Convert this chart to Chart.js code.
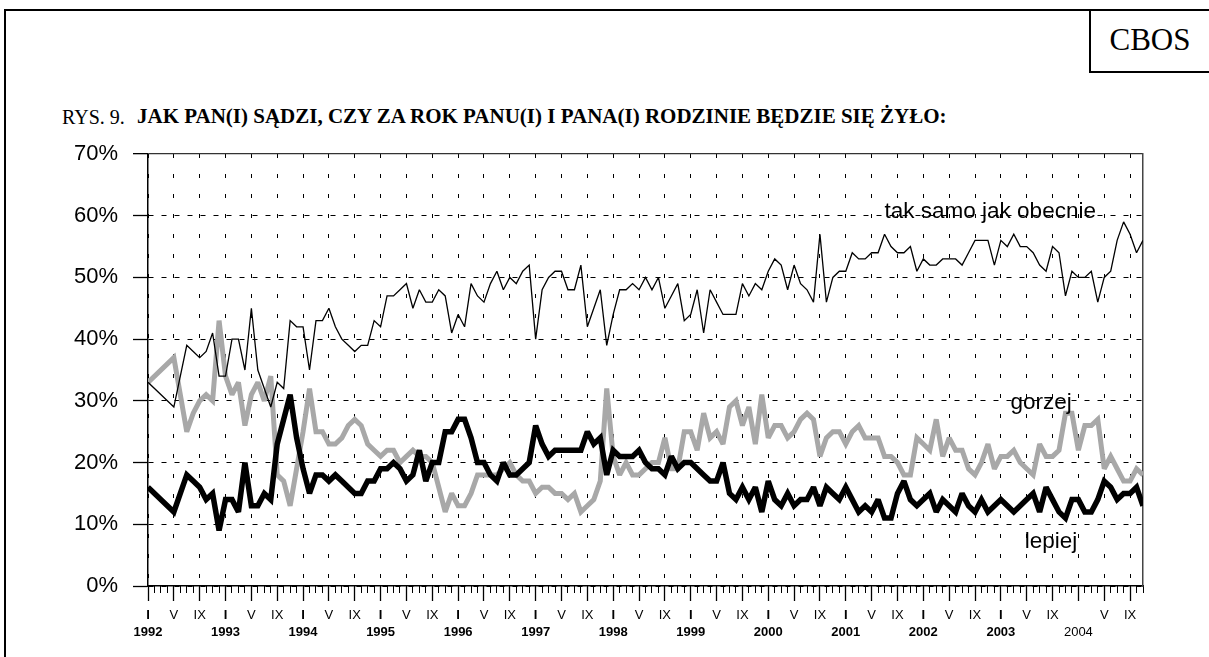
<!DOCTYPE html>
<html>
<head>
<meta charset="utf-8">
<script src="https://cdn.jsdelivr.net/npm/chart.js@4.4.1/dist/chart.umd.min.js"></script>
<style>
  html, body { margin: 0; padding: 0; background: #fff; }
  #page { position: relative; width: 1209px; height: 657px; overflow: hidden; background: #fff; }
  #frame { position: absolute; left: 4px; top: 9px; width: 1300px; height: 700px; border-top: 2px solid #000; border-left: 2px solid #000; }
  #cbosBox { position: absolute; left: 1089px; top: 9px; width: 200px; height: 62px; border-left: 2px solid #000; border-bottom: 2px solid #000; }
  #cbosText { position: absolute; left: 1091px; top: 24px; width: 118px; text-align: center; font-family: 'Liberation Serif'; font-size: 31px; line-height: 31px; }
  .ttl { position: absolute; font-family: 'Liberation Serif'; white-space: nowrap; }
  #t1 { left: 62px; top: 107px; font-size: 20px; line-height: 20px; }
  #t2 { left: 137px; top: 106px; font-size: 21px; line-height: 21px; font-weight: bold; }
  #c { position: absolute; left: 0; top: 0; }
</style>
</head>
<body>
<div id="page">
  <div id="frame"></div>
  <div id="cbosBox"></div>
  <div id="cbosText">CBOS</div>
  <div class="ttl" id="t1">RYS. 9.</div>
  <div class="ttl" id="t2">JAK PAN(I) SĄDZI, CZY ZA ROK PANU(I) I PANA(I) RODZINIE BĘDZIE SIĘ ŻYŁO:</div>
  <canvas id="c" width="1209" height="657"></canvas>
</div>
<script>
// Month index: 0 = I 1992, 12 = I 1993, ... 154 = XI 2004
const months = [
  0, 4, 6, 7, 8, 9, 10, 11,
  12, 13, 14, 15, 16, 17, 18, 19, 20, 21, 22, 23,
  24, 25, 26, 27, 28, 29, 30, 31, 32, 33, 34, 35,
  36, 37, 38, 39, 40, 41, 42, 43, 44, 45, 46, 47,
  48, 49, 50, 51, 52, 53, 54, 55, 56, 57, 58, 59,
  60, 61, 62, 63, 64, 65, 66, 67, 68, 69, 70, 71,
  72, 73, 74, 75, 76, 77, 78, 79, 80, 81, 82, 83,
  84, 85, 86, 87, 88, 89, 90, 91, 92, 93, 94, 95,
  96, 97, 98, 99, 100, 101, 102, 103, 104, 105, 106, 107,
  108, 109, 110, 111, 112, 113, 114, 115, 116, 117, 118, 119,
  120, 121, 122, 123, 124, 125, 126, 127, 128, 129, 130, 131,
  132, 133, 134, 135, 136, 137, 138, 139, 140, 141, 142, 143,
  144, 145, 146, 147, 148, 149, 150, 151, 152, 153, 154
];

const takSamo = [
  33, 29, 39, 38, 37, 38, 41, 34,
  34, 40, 40, 35, 45, 35, 32, 29, 33, 32, 43, 42,
  42, 35, 43, 43, 45, 42, 40, 39, 38, 39, 39, 43,
  42, 47, 47, 48, 49, 45, 48, 46, 46, 48, 47, 41,
  44, 42, 49, 47, 46, 49, 51, 48, 50, 49, 51, 52,
  40, 48, 50, 51, 51, 48, 48, 52, 42, 45, 48, 39,
  44, 48, 48, 49, 48, 50, 48, 50, 45, 47, 49, 43,
  44, 48, 41, 48, 46, 44, 44, 44, 49, 47, 49, 48,
  51, 53, 52, 48, 52, 49, 48, 46, 57, 46, 50, 51,
  51, 54, 53, 53, 54, 54, 57, 55, 54, 54, 55, 51,
  53, 52, 52, 53, 53, 53, 52, 54, 56, 56, 56, 52,
  56, 55, 57, 55, 55, 54, 52, 51, 55, 54, 47, 51,
  50, 50, 51, 46, 50, 51, 56, 59, 57, 54, 56
];

const gorzej = [
  33, 37, 25, 28, 30, 31, 30, 43,
  34, 31, 33, 26, 31, 33, 30, 34, 18, 17, 13, 19,
  25, 32, 25, 25, 23, 23, 24, 26, 27, 26, 23, 22,
  21, 22, 22, 20, 21, 22, 21, 21, 20, 16, 12, 15,
  13, 13, 15, 18, 18, 18, 18, 19, 20, 18, 17, 17,
  15, 16, 16, 15, 15, 14, 15, 12, 13, 14, 17, 32,
  21, 18, 20, 18, 18, 19, 20, 20, 24, 19, 19, 25,
  25, 22, 28, 24, 25, 23, 29, 30, 26, 29, 23, 31,
  24, 26, 26, 24, 25, 27, 28, 27, 21, 24, 25, 25,
  23, 25, 26, 24, 24, 24, 21, 21, 20, 18, 18, 24,
  23, 22, 27, 21, 24, 22, 22, 19, 18, 20, 23, 19,
  21, 21, 22, 20, 19, 18, 23, 21, 21, 22, 28, 28,
  22, 26, 26, 27, 19, 21, 19, 17, 17, 19, 18
];

const lepiej = [
  16, 12, 18, 17, 16, 14, 15, 9,
  14, 14, 12, 20, 13, 13, 15, 14, 23, 27, 31, 24,
  19, 15, 18, 18, 17, 18, 17, 16, 15, 15, 17, 17,
  19, 19, 20, 19, 17, 18, 22, 17, 20, 20, 25, 25,
  27, 27, 24, 20, 20, 18, 17, 20, 18, 18, 19, 20,
  26, 23, 21, 22, 22, 22, 22, 22, 25, 23, 24, 18,
  22, 21, 21, 21, 22, 20, 19, 19, 18, 21, 19, 20,
  20, 19, 18, 17, 17, 20, 15, 14, 16, 14, 16, 12,
  17, 14, 13, 15, 13, 14, 14, 16, 13, 16, 15, 14,
  16, 14, 12, 13, 12, 14, 11, 11, 15, 17, 14, 13,
  14, 15, 12, 14, 13, 12, 15, 13, 12, 14, 12, 13,
  14, 13, 12, 13, 14, 15, 12, 16, 14, 12, 11, 14,
  14, 12, 12, 14, 17, 16, 14, 15, 15, 16, 13
];

const yTickLabels = ['0%', '10%', '20%', '30%', '40%', '50%', '60%', '70%'];
const monthTickLabels = ['I', 'V', 'IX'];
const yearTickLabels = ['1992', '1993', '1994', '1995', '1996', '1997', '1998', '1999', '2000', '2001', '2002', '2003', '2004'];
const seriesNames = ['tak samo jak obecnie', 'gorzej', 'lepiej'];

// label anchors in data units (month index, percent)
const labelAnchors = [
  { text: seriesNames[0], m: 114.0, v: 59.7 },
  { text: seriesNames[1], m: 133.5, v: 28.6 },
  { text: seriesNames[2], m: 135.7, v: 6.1 }
];

const toPoints = vals => months.map((m, i) => ({ x: m, y: vals[i] }));

const FONT = 'Liberation Sans';

const seriesLabelPlugin = {
  id: 'seriesLabels',
  afterDatasetsDraw(chart) {
    const { ctx, scales } = chart;
    ctx.save();
    ctx.font = '22.5px "' + FONT + '"';
    ctx.fillStyle = '#000';
    ctx.textAlign = 'left';
    ctx.textBaseline = 'alphabetic';
    labelAnchors.forEach(a => {
      ctx.fillText(a.text, scales.x.getPixelForValue(a.m), scales.y.getPixelForValue(a.v));
    });
    ctx.restore();
  }
};

const miterPlugin = {
  id: 'miter',
  beforeDatasetsDraw(chart) { chart.ctx.miterLimit = 2.5; },
  afterDatasetsDraw(chart) { chart.ctx.miterLimit = 10; }
};

new Chart(document.getElementById('c'), {
  type: 'line',
  data: {
    datasets: [
      { label: seriesNames[0], data: toPoints(takSamo), borderColor: '#000', borderWidth: 1.3, pointRadius: 0, tension: 0, borderJoinStyle: 'miter' },
      { label: seriesNames[2], data: toPoints(lepiej), borderColor: '#000', borderWidth: 5.5, pointRadius: 0, tension: 0, borderJoinStyle: 'miter' },
      { label: seriesNames[1], data: toPoints(gorzej), borderColor: '#a8a8a8', borderWidth: 5, pointRadius: 0, tension: 0, borderJoinStyle: 'miter' }
    ]
  },
  options: {
    responsive: false,
    animation: false,
    devicePixelRatio: 1,
    events: [],
    layout: { padding: { left: 48, right: 66, top: 154, bottom: 11 } },
    plugins: { legend: { display: false }, tooltip: { enabled: false }, title: { display: false } },
    scales: {
      x: {
        type: 'linear', position: 'bottom', min: 0, max: 154,
        afterFit: s => { s.height = 60; },
        ticks: {
          stepSize: 4, autoSkip: false, includeBounds: false, maxRotation: 0, minRotation: 0,
          padding: 6, color: '#000',
          font: ctx => ({
            family: FONT, size: 13, lineHeight: 1.3,
            weight: (ctx.tick && ctx.tick.value % 12 === 0 && ctx.tick.value < 144) ? 'bold' : 'normal'
          }),
          callback: v => {
            const r = v % 12;
            const yr = yearTickLabels[Math.floor(v / 12)];
            if (r === 0) return v === 144 ? ['', yr] : [monthTickLabels[0], yr];
            if (r === 4) return monthTickLabels[1];
            if (r === 8) return monthTickLabels[2];
            return '';
          }
        },
        grid: { color: '#000', lineWidth: 1, tickLength: 15, tickColor: '#000', tickWidth: 1.3 },
        border: { display: true, color: '#000', width: 1.5, dash: [4, 16] }
      },
      xm: {
        type: 'linear', axis: 'x', position: { y: 0 }, min: 0, max: 154,
        ticks: { display: false, stepSize: 1, autoSkip: false },
        grid: { drawOnChartArea: false, drawTicks: true, tickLength: 7, tickColor: '#000', tickWidth: 1 },
        border: { display: false }
      },
      y: {
        type: 'linear', position: 'left', min: 0, max: 70,
        afterFit: s => { s.width = 100; },
        ticks: {
          stepSize: 10, padding: 15, color: '#000',
          font: { family: FONT, size: 22 },
          callback: v => yTickLabels[Math.round(v / 10)]
        },
        grid: {
          color: ctx => (ctx.tick && ctx.tick.value === 70) ? '#333' : '#000',
          lineWidth: ctx => (ctx.tick && ctx.tick.value === 70) ? 1.3 : 1,
          tickLength: 15, tickColor: '#000', tickWidth: 1.3
        },
        border: {
          display: true, color: '#000', width: 1.5,
          dash: ctx => (ctx.tick && ctx.tick.value === 70) ? [] : [5, 8]
        }
      },
      y2: {
        type: 'linear', position: 'right', min: 0, max: 70,
        afterFit: s => { s.width = 0; },
        ticks: { display: false },
        grid: { display: false, drawTicks: false },
        border: { display: true, color: '#444', width: 1.5 }
      }
    }
  },
  plugins: [seriesLabelPlugin, miterPlugin]
});
</script>
</body>
</html>
